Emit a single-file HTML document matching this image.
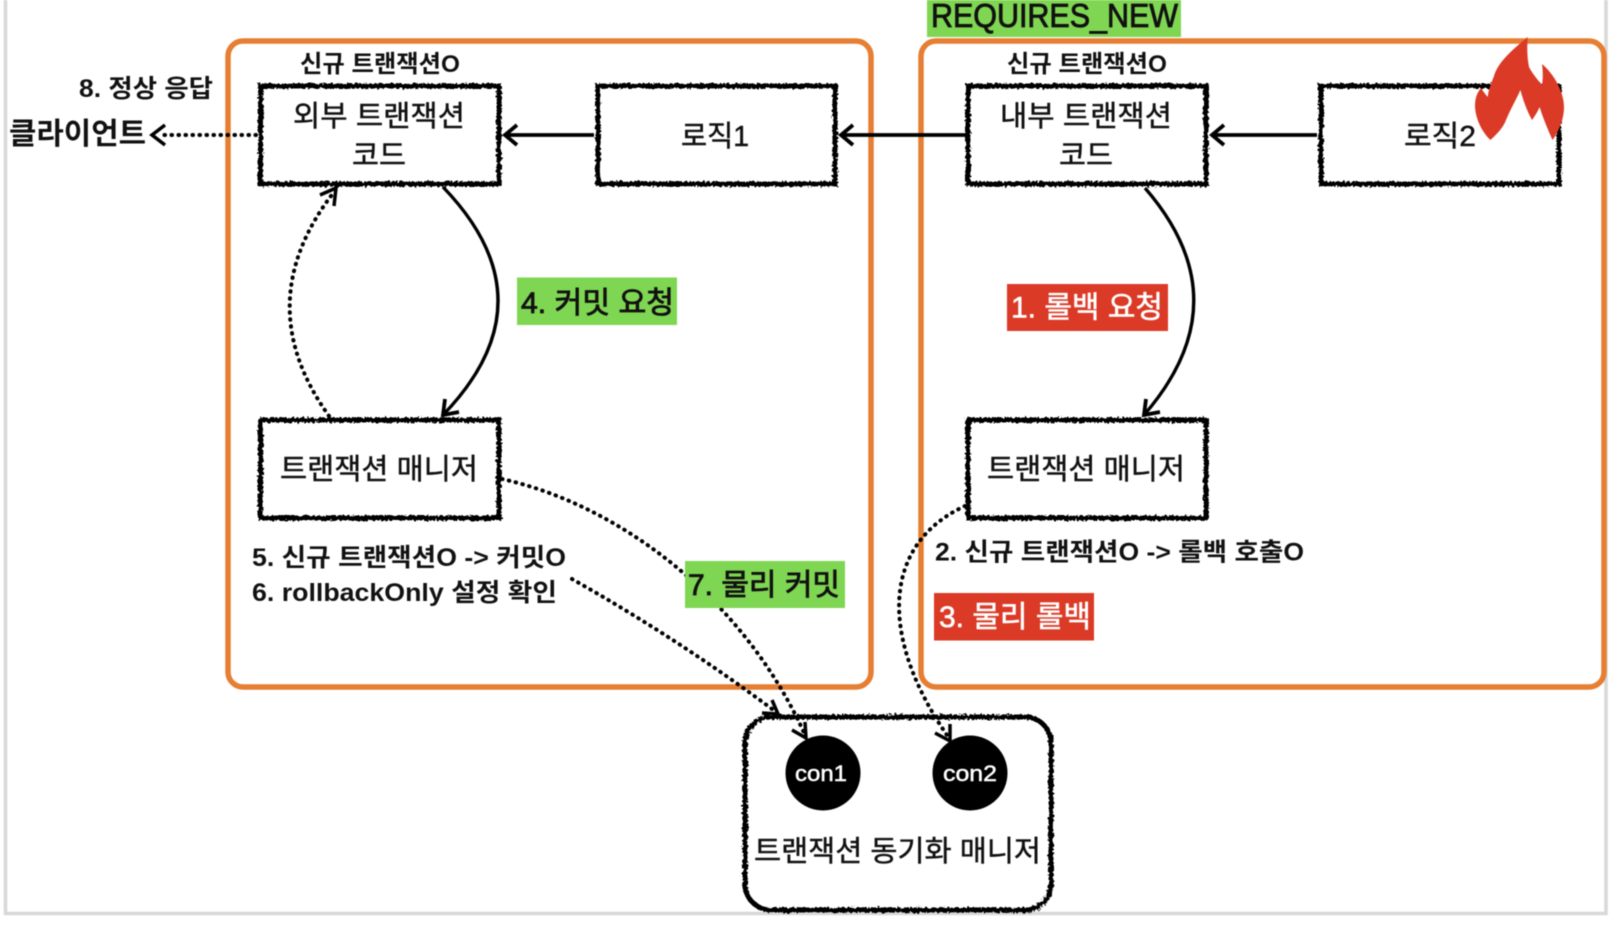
<!DOCTYPE html>
<html><head><meta charset="utf-8"><style>
html,body{margin:0;padding:0;background:#fff;width:1624px;height:930px;overflow:hidden}
svg{display:block;filter:blur(.6px)}
text{font-family:"Liberation Sans","Noto Sans CJK KR",sans-serif;fill:#111}
.b{font-weight:700}
.n{stroke:#111;stroke-width:.45}
.m{stroke:#111;stroke-width:.85}
.mw{fill:#fff;stroke:#fff;stroke-width:.6}
</style></head><body>
<svg width="1624" height="930" viewBox="0 0 1624 930" xmlns="http://www.w3.org/2000/svg">
<defs>
<filter id="r" x="-5%" y="-5%" width="110%" height="110%"><feTurbulence type="fractalNoise" baseFrequency=".4" numOctaves="2" seed="4"/><feDisplacementMap in="SourceGraphic" scale="5"/></filter>
</defs>
<rect width="1624" height="930" fill="#fff"/>
<path d="M5.500 0V913.500H1606V0" fill="none" stroke="#d8d8d8" stroke-width="3.500"/>

<!-- containers -->
<rect x="228" y="41" width="643" height="646" rx="15" fill="none" stroke="#e67e33" stroke-width="5.500"/>
<rect x="921" y="41" width="683" height="646" rx="15" fill="none" stroke="#e67e33" stroke-width="5.500"/>
<rect x="927" y="0" width="254" height="37" fill="#7fd652"/>

<!-- sketchy boxes -->
<g fill="none" stroke="#000" stroke-width="5" filter="url(#r)">
<rect x="260.500" y="86" width="238.500" height="98"/>
<rect x="598" y="86" width="237" height="98"/>
<rect x="968" y="86" width="238" height="98"/>
<rect x="1321" y="86" width="238" height="98"/>
<rect x="260.500" y="420" width="238.500" height="98"/>
<rect x="968" y="420" width="238" height="98"/>
<rect x="745" y="717" width="306" height="193" rx="26"/>
</g>

<!-- solid connectors -->
<g fill="none" stroke="#000" stroke-width="3.800">
<path d="M594 135H505"/><path d="M517 125L505 135L517 145"/>
<path d="M966 135H841"/><path d="M853 125L841 135L853 145"/>
<path d="M1317 135H1212"/><path d="M1224 125L1212 135L1224 145"/>
<path stroke-width="3.300" d="M443 187Q553 301 443 415"/>
<path d="M445 399L443 415L459 412"/>
<path stroke-width="3.300" d="M1145 188Q1243 301 1144 415"/>
<path d="M1146 399L1144 415L1160 412"/>
</g>

<!-- dotted connectors -->
<g fill="none" stroke="#000" stroke-width="4" stroke-linecap="round" stroke-dasharray=".5 6.500">
<path d="M256 135H158"/>
<path d="M329 416Q248 303 334 192"/>
<path d="M502 479C620 505 745 600 805 735"/>
<path d="M572 579Q680 640 776 712"/>
<path d="M965 506C880 545 880 640 949 738"/>
</g>
<g fill="none" stroke="#000" stroke-width="3.500">
<path d="M165 125L152 135L165 145"/>
<path d="M320 195L336 188L334 206"/>
<path d="M805 722L806 738L792 730"/>
<path d="M772 700L778 714L762 713"/>
<path d="M950 724L950 741L935 733"/>
</g>

<!-- sync circles -->
<circle cx="823" cy="773" r="37.500" fill="#000"/>
<circle cx="970" cy="773" r="37.500" fill="#000"/>

<!-- flame -->
<path fill="#db3a26" d="M1527.700 37C1512 50 1498 62 1494 76C1490 86 1488 92 1487.800 97C1485 94 1483 91 1481 88C1476 94 1475 100 1475 107C1476 121 1483 133 1490.400 140C1497 134 1503 128 1506 120C1511 108 1517 98 1520.400 90C1523 100 1527 111 1532 120C1535 116 1538 111 1539.600 107C1543 118 1548 130 1552.500 140C1559 131 1564 119 1564 107C1564 92 1554 74 1542 64C1543 72 1543 79 1542 85C1537 79 1532 73 1529 67C1527 57 1527 47 1527.700 37Z"/>

<!-- labels bg -->
<rect x="517" y="277.500" width="160" height="47.500" fill="#7fd652"/>
<rect x="1007" y="284" width="161" height="47" fill="#db3a26"/>
<rect x="685" y="561" width="160" height="47" fill="#7fd652"/>
<rect x="934" y="593" width="160" height="47.500" fill="#db3a26"/>

<!-- text -->
<text class="m" x="931" y="27" font-size="33" textLength="247" lengthAdjust="spacingAndGlyphs">REQUIRES_NEW</text>

<text class="b" x="300" y="72" font-size="24" textLength="160" lengthAdjust="spacingAndGlyphs">신규 트랜잭션O</text>
<text class="b" x="1007" y="72" font-size="24" textLength="160" lengthAdjust="spacingAndGlyphs">신규 트랜잭션O</text>
<text class="b" x="79" y="97" font-size="25" textLength="134" lengthAdjust="spacingAndGlyphs">8. 정상 응답</text>
<text class="b" x="9" y="144" font-size="30" textLength="137" lengthAdjust="spacingAndGlyphs">클라이언트</text>

<text class="n" x="293" y="126" font-size="29" textLength="172" lengthAdjust="spacingAndGlyphs">외부 트랜잭션</text>
<text class="n" x="352" y="165" font-size="29" textLength="54" lengthAdjust="spacingAndGlyphs">코드</text>
<text class="n" x="681" y="146" font-size="29" textLength="68" lengthAdjust="spacingAndGlyphs">로직1</text>
<text class="n" x="1000" y="126" font-size="29" textLength="172" lengthAdjust="spacingAndGlyphs">내부 트랜잭션</text>
<text class="n" x="1059" y="165" font-size="29" textLength="54" lengthAdjust="spacingAndGlyphs">코드</text>
<text class="n" x="1404" y="146" font-size="29" textLength="72" lengthAdjust="spacingAndGlyphs">로직2</text>

<text class="n" x="280" y="479" font-size="29" textLength="198" lengthAdjust="spacingAndGlyphs">트랜잭션 매니저</text>
<text class="n" x="987" y="479" font-size="29" textLength="198" lengthAdjust="spacingAndGlyphs">트랜잭션 매니저</text>

<text class="m" x="521" y="313" font-size="30" textLength="153" lengthAdjust="spacingAndGlyphs">4. 커밋 요청</text>
<text class="mw" x="1011" y="317.500" font-size="30" textLength="152" lengthAdjust="spacingAndGlyphs" style="fill:#fff">1. 롤백 요청</text>

<text class="b" x="252" y="566" font-size="25" textLength="314" lengthAdjust="spacingAndGlyphs">5. 신규 트랜잭션O -&gt; 커밋O</text>
<text class="b" x="252" y="601" font-size="25" textLength="305" lengthAdjust="spacingAndGlyphs">6. rollbackOnly 설정 확인</text>
<text class="b" x="935" y="560.500" font-size="25" textLength="369" lengthAdjust="spacingAndGlyphs">2. 신규 트랜잭션O -&gt; 롤백 호출O</text>

<text class="m" x="688" y="595" font-size="30" textLength="152" lengthAdjust="spacingAndGlyphs">7. 물리 커밋</text>
<text class="mw" x="939" y="627" font-size="30" textLength="152" lengthAdjust="spacingAndGlyphs" style="fill:#fff">3. 물리 롤백</text>

<text x="795" y="781" font-size="22" textLength="52" lengthAdjust="spacingAndGlyphs" style="fill:#fff;stroke:#fff;stroke-width:.5">con1</text>
<text x="943" y="781" font-size="22" textLength="54" lengthAdjust="spacingAndGlyphs" style="fill:#fff;stroke:#fff;stroke-width:.5">con2</text>

<text class="n" x="754" y="861" font-size="29" textLength="287" lengthAdjust="spacingAndGlyphs">트랜잭션 동기화 매니저</text>
</svg>
</body></html>
